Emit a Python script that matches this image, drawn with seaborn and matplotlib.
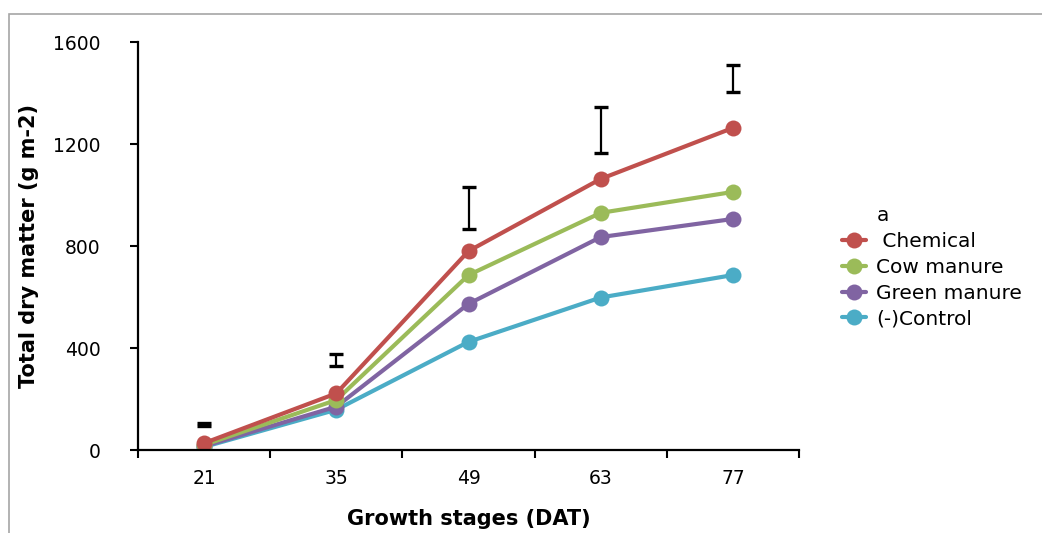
import matplotlib
matplotlib.use("Agg")
import matplotlib.pyplot as plt
from matplotlib.lines import Line2D
from matplotlib.patches import Rectangle
from matplotlib.ticker import FixedLocator
import seaborn as sns
import pandas as pd
import numpy as np

# Growth stages (days after transplanting)
stages = ["21", "35", "49", "63", "77"]
treatments = [" Chemical", "Cow manure", "Green manure", "(-)Control"]
chemical = [27, 222, 780, 1063, 1263]
cow_manure = [20, 196, 686, 930, 1012]
green_manure = [15, 170, 573, 835, 906]
control = [12, 158, 424, 598, 686]
# LSD bars: centre and half-length at each stage
lsd_center = [100, 353, 949, 1255, 1457]
lsd_half = [6, 24, 82, 90, 53]

colors = ["#C0504D", "#9BBB59", "#8064A2", "#4BACC6"]

series = [chemical, cow_manure, green_manure, control]
pos = np.arange(len(stages))
df = pd.DataFrame({
    "pos": np.tile(pos, len(treatments)),
    "value": np.concatenate(series),
    "treatment": np.repeat(treatments, len(stages)),
})

sns.set_theme(style="white")
plt.rcParams["font.family"] = ["DejaVu Sans"]
plt.rcParams["text.color"] = "black"

fig = plt.figure(figsize=(10.42, 5.33), dpi=100)
ax = fig.add_axes([138 / 1042, 1 - 450 / 533, (799 - 138) / 1042, (450 - 42) / 533])

# outer frame
fig.patches.append(Rectangle((9 / 1042, -0.05), 1.2, 1 - 14 / 533 + 0.05,
                             transform=fig.transFigure, fill=False,
                             edgecolor="#A6A6A6", linewidth=1.2))

# draw back to front so the Chemical series sits on top
for name, col in reversed(list(zip(treatments, colors))):
    sub = df[df["treatment"] == name]
    sns.lineplot(data=sub, x="pos", y="value", ax=ax, color=col,
                 linewidth=3.0, marker="o", markersize=11.5,
                 markeredgewidth=0, legend=False)

ax.errorbar(pos, lsd_center, yerr=lsd_half, fmt="none", ecolor="black",
            elinewidth=1.6, capsize=5, capthick=2.4)

ax.set_xlim(-0.5, len(stages) - 0.5)
ax.set_ylim(0, 1600)
ax.set_yticks([0, 400, 800, 1200, 1600])
ax.set_xticks(pos)
ax.set_xticklabels(stages)
ax.xaxis.set_minor_locator(FixedLocator(np.arange(-0.5, len(stages), 1.0)))
ax.tick_params(axis="x", which="major", length=0, pad=14, labelsize=13.5,
               colors="black")
ax.tick_params(axis="x", which="minor", length=6, width=1.5, direction="out",
               color="black", bottom=True)
ax.tick_params(axis="y", which="major", length=6, width=1.5, direction="out",
               pad=21, labelsize=13.5, colors="black", left=True)

for s in ["top", "right"]:
    ax.spines[s].set_visible(False)
for s in ["left", "bottom"]:
    ax.spines[s].set_color("black")
    ax.spines[s].set_linewidth(1.6)

ax.set_xlabel("Growth stages (DAT)", fontsize=15, fontweight="bold",
              labelpad=15, color="black")
ax.set_ylabel("Total dry matter (g m-2)", fontsize=15, fontweight="bold",
              labelpad=10, color="black")

handles = [Line2D([], [], linestyle="none", marker=None)]
labels = ["a"]
for name, col in zip(treatments, colors):
    handles.append(Line2D([], [], color=col, linewidth=3.0, marker="o",
                          markersize=11.5, markeredgewidth=0))
    labels.append(name)
fig.legend(handles, labels, loc="upper left",
           bbox_to_anchor=(834 / 1042, 1 - 198 / 533), frameon=False,
           fontsize=14.5, handlelength=1.2, handletextpad=0.5,
           labelspacing=0.34, borderaxespad=0, labelcolor="black")

fig.savefig("out.png", dpi=100)
